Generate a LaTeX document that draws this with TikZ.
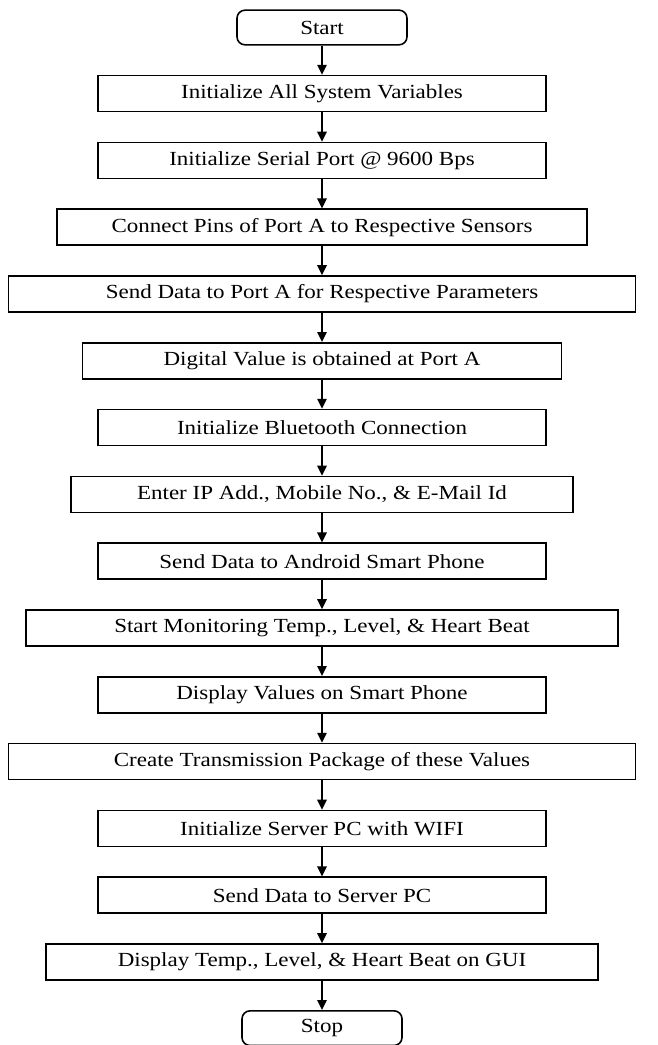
\documentclass[tikz,border=0pt]{standalone}
\usepackage{fontspec}
\setmainfont{Liberation Serif}[FakeStretch=1.15]
\usetikzlibrary{arrows.meta,positioning}

\begin{document}
\begin{tikzpicture}[
  x=0.75pt, y=0.75pt,
  font=\fontsize{15}{17}\selectfont,
  node distance=21.9pt,
  stepbox/.style={draw, line width=1.2pt, minimum height=27pt, inner sep=0pt},
  term/.style={stepbox, rounded corners=6pt, minimum height=26pt},
  flow/.style={-{Triangle[length=7.5pt, width=7pt]}, line width=1.4pt}
]
\useasboundingbox (0,0) rectangle (657,-1045);
\node[term, minimum width=127.5pt] (start) at (322,-27.5) {Start};
\node[stepbox, minimum width=336pt, below=of start] (vars) {Initialize All System Variables};
\node[stepbox, minimum width=336pt, below=of vars] (serial) {Initialize Serial Port @ 9600 Bps};
\node[stepbox, minimum width=397.5pt, below=of serial] (pins) {Connect Pins of Port A to Respective Sensors};
\node[stepbox, minimum width=470pt, below=of pins] (porta) {Send Data to Port A for Respective Parameters};
\node[stepbox, minimum width=359pt, below=of porta] (digital) {Digital Value is obtained at Port A};
\node[stepbox, minimum width=336pt, below=of digital] (bt) {Initialize Bluetooth Connection};
\node[stepbox, minimum width=376.5pt, below=of bt] (enterip) {Enter IP Add., Mobile No., \& E-Mail Id};
\node[stepbox, minimum width=336pt, below=of enterip] (android) {Send Data to Android Smart Phone};
\node[stepbox, minimum width=444pt, below=of android] (monitor) {Start Monitoring Temp., Level, \& Heart Beat};
\node[stepbox, minimum width=336pt, below=of monitor] (phone) {Display Values on Smart Phone};
\node[stepbox, minimum width=470pt, below=of phone] (package) {Create Transmission Package of these Values};
\node[stepbox, minimum width=336pt, below=of package] (wifi) {Initialize Server PC with WIFI};
\node[stepbox, minimum width=336pt, below=of wifi] (server) {Send Data to Server PC};
\node[stepbox, minimum width=414pt, below=of server] (gui) {Display Temp., Level, \& Heart Beat on GUI};
\node[term, minimum width=120pt, below=of gui] (stop) {Stop};
\foreach \a/\b in {start/vars, vars/serial, serial/pins, pins/porta, porta/digital,
  digital/bt, bt/enterip, enterip/android, android/monitor, monitor/phone,
  phone/package, package/wifi, wifi/server, server/gui, gui/stop}
  \draw[flow] (\a) -- (\b);
\end{tikzpicture}
\end{document}
